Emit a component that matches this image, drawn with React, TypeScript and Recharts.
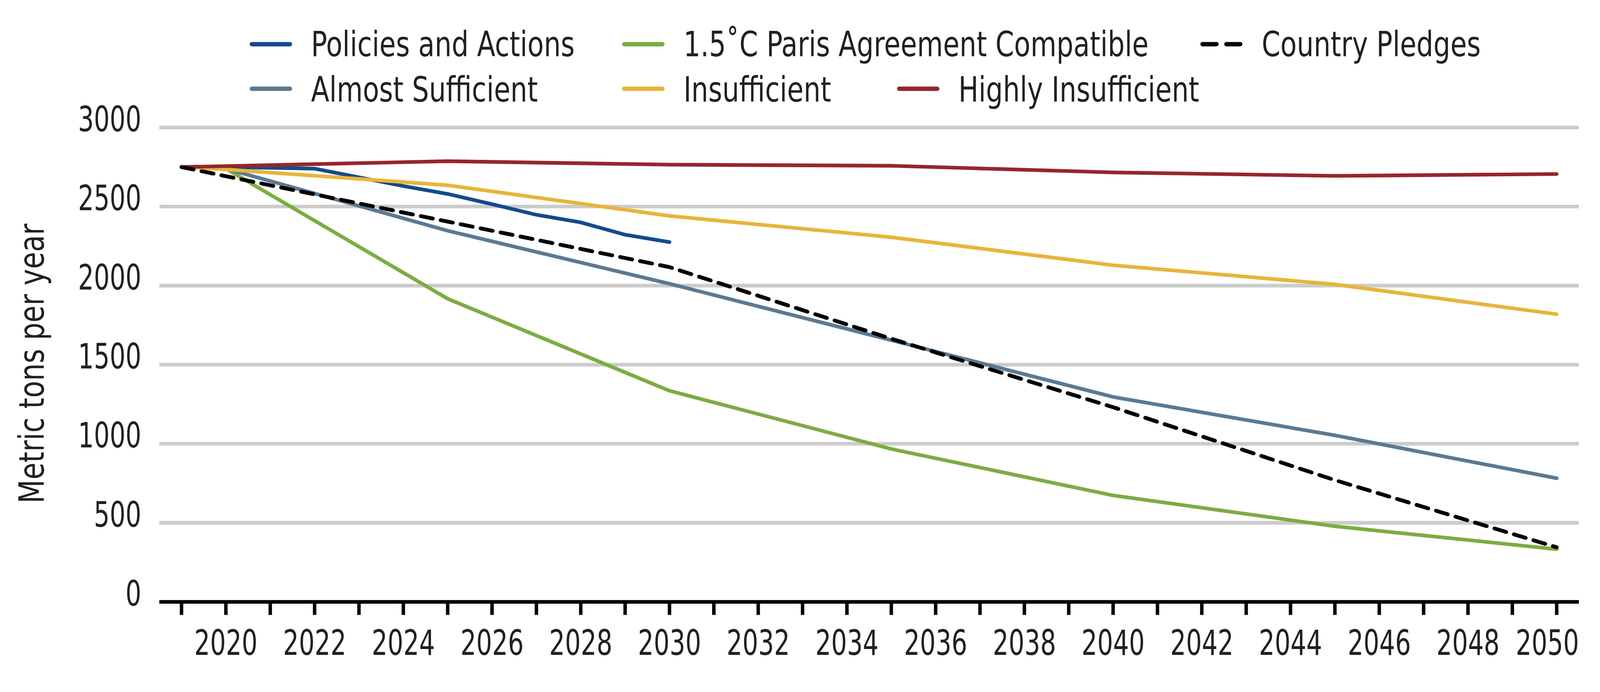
import React from 'react';
import { LineChart, Line, XAxis, YAxis, CartesianGrid, Legend } from 'recharts';

// ---- data ----
const scenarioYears = [2019, 2020, 2025, 2030, 2035, 2040, 2045, 2050];
const parisCompatible = [2750, 2740, 1917, 1335, 967, 673, 478, 333];
const almostSufficient = [2750, 2740, 2347, 2012, 1655, 1296, 1053, 782];
const insufficient = [2750, 2735, 2635, 2441, 2306, 2129, 2008, 1819];
const highlyInsufficient = [2750, 2756, 2787, 2765, 2758, 2716, 2694, 2706];
const countryPledges = [2750, 2692, 2405, 2117, 1664, 1231, 770, 345];

const policyYears = [2019, 2020, 2021, 2022, 2023, 2024, 2025, 2026, 2027, 2028, 2029, 2030];
const policiesActions = [2750, 2750, 2745, 2740, 2685, 2630, 2580, 2515, 2448, 2400, 2322, 2275];

const xTicks = [
  2019, 2020, 2021, 2022, 2023, 2024, 2025, 2026, 2027, 2028, 2029, 2030, 2031, 2032, 2033, 2034,
  2035, 2036, 2037, 2038, 2039, 2040, 2041, 2042, 2043, 2044, 2045, 2046, 2047, 2048, 2049, 2050,
];
const xLabels = [
  2020, 2022, 2024, 2026, 2028, 2030, 2032, 2034, 2036, 2038, 2040, 2042, 2044, 2046, 2048, 2050,
];
const yTicks = [0, 500, 1000, 1500, 2000, 2500, 3000];

const SERIES = {
  policies: 'Policies and Actions',
  paris: '1.5\u02DAC Paris Agreement Compatible',
  pledges: 'Country Pledges',
  almost: 'Almost Sufficient',
  insuff: 'Insufficient',
  highly: 'Highly Insufficient',
};

// build table
const allYears = Array.from(new Set([...policyYears, ...scenarioYears])).sort((a, b) => a - b);
const table = allYears.map((year) => {
  const row: Record<string, number | null> = { year };
  const si = scenarioYears.indexOf(year);
  const pi = policyYears.indexOf(year);
  row.policies = pi >= 0 ? policiesActions[pi] : null;
  row.paris = si >= 0 ? parisCompatible[si] : null;
  row.almost = si >= 0 ? almostSufficient[si] : null;
  row.insuff = si >= 0 ? insufficient[si] : null;
  row.highly = si >= 0 ? highlyInsufficient[si] : null;
  row.pledges = si >= 0 ? countryPledges[si] : null;
  return row;
});

// ---- style ----
const FONT = "'DejaVu Sans Condensed', 'DejaVu Sans', sans-serif";
const TEXT = '#231F20';
const FS = 90;
const COLORS = {
  policies: '#144A8C',
  paris: '#7CAC42',
  almost: '#5C7991',
  insuff: '#E8B43A',
  highly: '#96262D',
  pledges: '#000000',
};

const W = 4167;
const H = 1771;
// the photographed page is 4096 css px wide; fit the 4167-unit design into it
const FIT = 4096 / 4167;

const SText = (p: {
  x: number;
  y: number;
  sx: number;
  anchor?: 'start' | 'middle' | 'end';
  rotate?: number;
  children: React.ReactNode;
}) => (
  <text
    transform={`translate(${p.x},${p.y}) rotate(${p.rotate || 0}) scale(${p.sx},1)`}
    x={0}
    y={0}
    textAnchor={p.anchor || 'start'}
    fill={TEXT}
    fontFamily={FONT}
    fontSize={FS}
  >
    {p.children}
  </text>
);

const lastLabel = xLabels[xLabels.length - 1];

const XTick = (props: any) => {
  const { x, y, payload } = props;
  if (!xLabels.includes(payload.value)) return <g />;
  const isLast = payload.value === lastLabel;
  return (
    <SText x={isLast ? x + 58 : x} y={y + 104} sx={0.8} anchor={isLast ? 'end' : 'middle'}>
      {String(payload.value)}
    </SText>
  );
};

const YTick = (props: any) => {
  const { x, y, payload } = props;
  return (
    <SText x={x} y={y + 10} sx={0.8} anchor="end">
      {String(payload.value)}
    </SText>
  );
};

const legendLayout: Record<string, { x: number; row: number }> = {
  [SERIES.policies]: { x: 650, row: 0 },
  [SERIES.paris]: { x: 1620, row: 0 },
  [SERIES.pledges]: { x: 3126, row: 0 },
  [SERIES.almost]: { x: 650, row: 1 },
  [SERIES.insuff]: { x: 1620, row: 1 },
  [SERIES.highly]: { x: 2336, row: 1 },
};
const rowLineY = [115, 231];
const rowTextY = [147, 264];

const LegendContent = (props: any) => {
  const { payload } = props;
  return (
    <svg width={W} height={330} style={{ display: 'block' }}>
      {(payload || []).map((item: any) => {
        const pos = legendLayout[item.value];
        if (!pos) return null;
        const dashed = item.value === SERIES.pledges;
        return (
          <g key={item.value}>
            <line
              x1={pos.x + 6}
              x2={pos.x + 105}
              y1={rowLineY[pos.row]}
              y2={rowLineY[pos.row]}
              stroke={item.color}
              strokeWidth={11.5}
              strokeLinecap="round"
              strokeDasharray={dashed ? '36 26' : undefined}
            />
            <SText x={pos.x + 160} y={rowTextY[pos.row]} sx={0.86}>
              {item.value}
            </SText>
          </g>
        );
      })}
    </svg>
  );
};

const YLabel = (props: any) => {
  const vb = props.viewBox || { x: 0, y: 332, width: 415, height: 1235 };
  const cx = vb.x + 114;
  const cy = vb.y + vb.height / 2 - 3;
  return (
    <SText x={cx} y={cy} sx={0.89} rotate={-90} anchor="middle">
      Metric tons per year
    </SText>
  );
};

export default function App() {
  const lineCommon = {
    type: 'linear' as const,
    dot: false,
    activeDot: false,
    isAnimationActive: false,
    connectNulls: true,
    strokeWidth: 9.5,
    strokeLinecap: 'round' as const,
    strokeLinejoin: 'round' as const,
  };
  return (
    <div
      style={{
        position: 'absolute',
        left: 0,
        top: 0,
        width: W,
        height: H,
        background: '#fff',
        transform: `scale(${FIT})`,
        transformOrigin: '0 0',
      }}
    >
      <LineChart
        width={W}
        height={H}
        data={table}
        margin={{ top: 332, right: 55, bottom: 0, left: 0 }}
      >
        <CartesianGrid vertical={false} stroke="#CCCCCC" strokeWidth={9.5} />
        <XAxis
          dataKey="year"
          type="number"
          domain={[2018.5, 2050.5]}
          ticks={xTicks}
          interval={0}
          height={204}
          tickSize={34}
          tickMargin={0}
          tickLine={{ stroke: '#000', strokeWidth: 9 }}
          axisLine={{ stroke: '#000', strokeWidth: 9.5 }}
          tick={<XTick />}
        />
        <YAxis
          type="number"
          domain={[0, 3000]}
          ticks={yTicks}
          interval={0}
          width={415}
          axisLine={false}
          tickLine={false}
          tickSize={0}
          tickMargin={47}
          tick={<YTick />}
          label={<YLabel />}
        />
        <Legend
          verticalAlign="middle"
          align="center"
          layout="horizontal"
          wrapperStyle={{ position: 'absolute', top: 0, left: 0, width: W, height: 330 }}
          content={<LegendContent />}
        />
        <Line {...lineCommon} dataKey="policies" name={SERIES.policies} stroke={COLORS.policies} />
        <Line {...lineCommon} dataKey="paris" name={SERIES.paris} stroke={COLORS.paris} />
        <Line {...lineCommon} dataKey="almost" name={SERIES.almost} stroke={COLORS.almost} />
        <Line {...lineCommon} dataKey="insuff" name={SERIES.insuff} stroke={COLORS.insuff} />
        <Line {...lineCommon} dataKey="highly" name={SERIES.highly} stroke={COLORS.highly} />
        <Line
          {...lineCommon}
          dataKey="pledges"
          name={SERIES.pledges}
          stroke={COLORS.pledges}
          strokeWidth={10}
          strokeDasharray="32 21"
        />
      </LineChart>
    </div>
  );
}
